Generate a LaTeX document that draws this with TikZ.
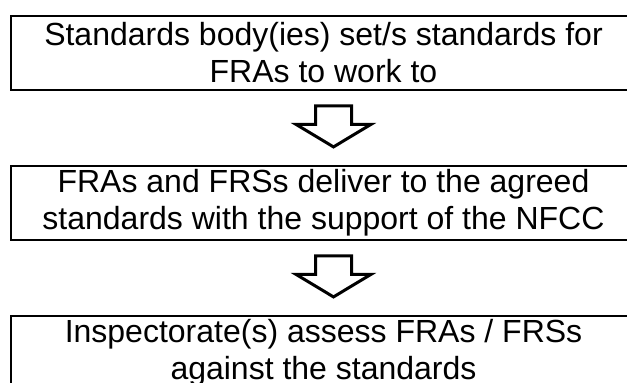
\documentclass[tikz,border=0pt]{standalone}
\usepackage{fontspec}
\setmainfont{Liberation Sans}
\usetikzlibrary{shapes.arrows}

\tikzstyle{stage} = [draw, line width=2.9pt, rectangle, minimum width=625pt,
    minimum height=74pt, align=center, inner sep=0pt,
    font=\fontsize{32}{37}\selectfont]
\tikzstyle{flow} = [draw, line width=3pt, fill=white, single arrow,
    shape border rotate=270, minimum height=41pt, minimum width=72pt,
    inner xsep=16.5pt, inner ysep=0pt,
    single arrow head extend=19.5pt, single arrow tip angle=118]

\begin{document}
\begin{tikzpicture}[x=1pt, y=1pt, node distance=150pt]
    % page frame, the boxes run off the right edge
    \useasboundingbox (0,0) rectangle (627,383);
    \clip (0,0) rectangle (627,383);

    % the three stages
    \node [stage] (standards) at (323.5,330) {Standards body(ies) set/s standards for\\FRAs to work to};
    \node [stage, below of=standards] (delivery) {FRAs and FRSs deliver to the agreed\\standards with the support of the NFCC};
    \node [stage, below of=delivery] (inspection) {Inspectorate(s) assess FRAs / FRSs\\against the standards};

    % hollow arrows between the stages
    \node [flow, below of=standards, node distance=68pt, xshift=10pt] (step1) {};
    \node [flow, below of=delivery, node distance=68pt, xshift=10pt] (step2) {};
\end{tikzpicture}
\end{document}
